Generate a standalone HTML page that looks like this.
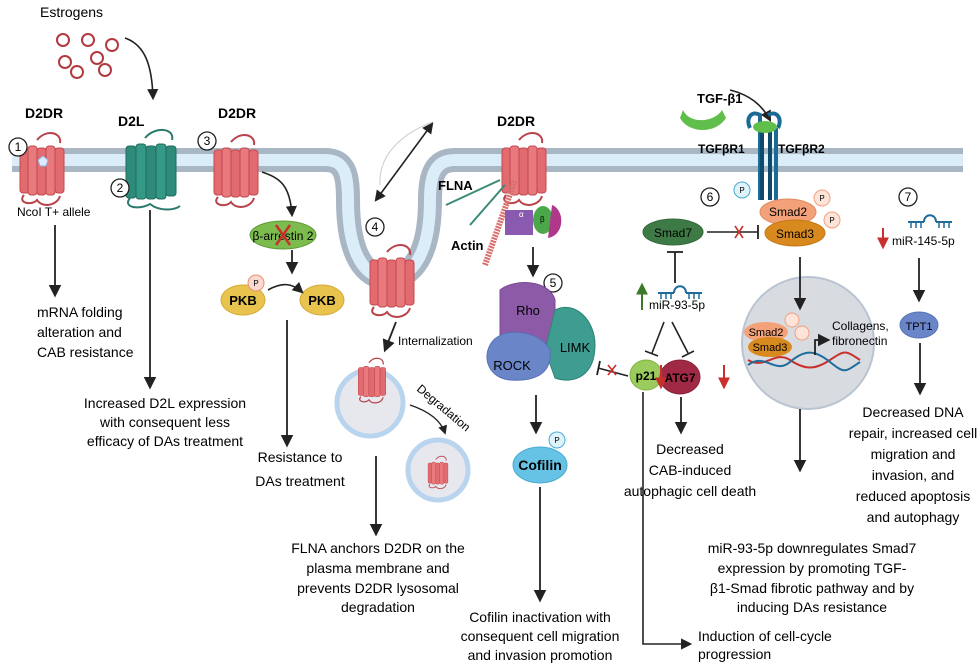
<!DOCTYPE html>
<html><head><meta charset="utf-8"><style>
html,body{margin:0;padding:0;background:#fff}
svg{display:block;font-family:"Liberation Sans",sans-serif}
</style></head><body>
<svg width="980" height="665" viewBox="0 0 980 665" xmlns="http://www.w3.org/2000/svg">
<defs>
<marker id="ah" viewBox="0 0 10 10" refX="8" refY="5" markerWidth="7" markerHeight="7" orient="auto-start-reverse"><path d="M0,0 L10,5 L0,10 z" fill="#222"/></marker>
<marker id="rah" viewBox="0 0 10 10" refX="8" refY="5" markerWidth="6" markerHeight="6" orient="auto"><path d="M0,0 L10,5 L0,10 z" fill="#c9302c"/></marker>
<marker id="gah" viewBox="0 0 10 10" refX="8" refY="5" markerWidth="6" markerHeight="6" orient="auto"><path d="M0,0 L10,5 L0,10 z" fill="#3b7a2a"/></marker>
<g id="rec">
<path d="M-5,-28 C5,-40 20,-35 18,-25" fill="none" stroke="#b8434a" stroke-width="2"/>
<rect x="-22" y="-20" width="9" height="45" rx="3" fill="#e26b6f" stroke="#c2484e"/>
<rect x="-14" y="-22" width="9" height="49" rx="3" fill="#e87a7d" stroke="#c2484e"/>
<rect x="-5" y="-20" width="9" height="47" rx="3" fill="#e26b6f" stroke="#c2484e"/>
<rect x="4" y="-22" width="9" height="49" rx="3" fill="#e87a7d" stroke="#c2484e"/>
<rect x="13" y="-20" width="9" height="45" rx="3" fill="#e26b6f" stroke="#c2484e"/>
<path d="M-18,27 C-25,35 -10,38 -5,32 C0,40 15,38 18,28" fill="none" stroke="#b8434a" stroke-width="2"/>
</g>
<g id="mir">
<path d="M-22,0 H-6 M6,0 H22 M-6,0 C-6,-9 6,-9 6,0" fill="none" stroke="#1f6c9c" stroke-width="2"/>
<path d="M-19,0 v6 M-14,0 v6 M-9,0 v6 M9,0 v6 M14,0 v6 M19,0 v6" stroke="#1f6c9c" stroke-width="1.5"/>
</g>
</defs>

<!-- membrane -->
<path d="M12,160 H325 C345,160 348,175 348,200 C348,255 365,278 388,278 C412,278 430,255 430,200 C430,175 435,160 455,160 H963" fill="none" stroke="#a9b7c4" stroke-width="24"/>
<path d="M12,160 H325 C345,160 348,175 348,200 C348,255 365,278 388,278 C412,278 430,255 430,200 C430,175 435,160 455,160 H963" fill="none" stroke="#dcedfa" stroke-width="12"/>
<rect x="370" y="130" width="40" height="45" fill="#fff"/>
<path d="M380,185 C378,150 410,130 433,122" fill="none" stroke="#ccc" stroke-width="1"/>
<path d="M376,200 L432,124" fill="none" stroke="#222" stroke-width="1.6" marker-end="url(#ah)" marker-start="url(#ah)"/>

<!-- estrogens -->
<text x="40" y="17" font-size="14">Estrogens</text>
<g fill="#fff" stroke="#b23a3f" stroke-width="2">
<circle cx="63" cy="40" r="6"/><circle cx="88" cy="40" r="6"/><circle cx="112" cy="45" r="6"/>
<circle cx="65" cy="62" r="6"/><circle cx="97" cy="58" r="6"/><circle cx="77" cy="72" r="6"/><circle cx="105" cy="70" r="6"/></g>
<path d="M125,38 C145,45 152,65 153,98" fill="none" stroke="#222" stroke-width="1.6" marker-end="url(#ah)"/>

<!-- receptors -->
<use href="#rec" x="42" y="168"/>
<path d="M38,160 l5,-4 l5,4 l-2,6 h-6 z" fill="#dfe9ff" stroke="#8fb0e0"/>
<use href="#rec" x="236" y="170"/>
<use href="#rec" x="392" y="280"/>
<use href="#rec" x="524" y="168"/>
<!-- D2L green -->
<g transform="translate(150,168)">
<path d="M-5,-30 C5,-42 25,-40 22,-28" fill="none" stroke="#2b7a6d" stroke-width="2"/>
<rect x="-24" y="-22" width="10" height="52" rx="3" fill="#2e8b7a" stroke="#1f6b5e"/>
<rect x="-14" y="-24" width="10" height="55" rx="3" fill="#349a87" stroke="#1f6b5e"/>
<rect x="-4" y="-22" width="10" height="53" rx="3" fill="#2e8b7a" stroke="#1f6b5e"/>
<rect x="6" y="-24" width="10" height="55" rx="3" fill="#349a87" stroke="#1f6b5e"/>
<rect x="16" y="-22" width="10" height="50" rx="3" fill="#2e8b7a" stroke="#1f6b5e"/>
<path d="M-20,30 C-28,40 -10,42 0,36 C10,44 25,42 30,38" fill="none" stroke="#2b7a6d" stroke-width="2"/>
</g>
<g font-size="14" font-weight="bold">
<text x="25" y="118">D2DR</text><text x="118" y="126">D2L</text><text x="218" y="118">D2DR</text><text x="497" y="126">D2DR</text>
</g>
<g font-size="12" fill="#fff" stroke="#222" stroke-width="1.3">
<circle cx="18" cy="147" r="9"/><circle cx="120" cy="188" r="9"/><circle cx="207" cy="141" r="9"/>
<circle cx="375" cy="227" r="9"/><circle cx="553" cy="283" r="9"/><circle cx="710" cy="197" r="9"/><circle cx="908" cy="197" r="9"/>
</g>
<g font-size="12" text-anchor="middle">
<text x="18" y="151">1</text><text x="120" y="192">2</text><text x="207" y="145">3</text><text x="375" y="231">4</text><text x="553" y="287">5</text><text x="710" y="201">6</text><text x="908" y="201">7</text>
</g>
<text x="17" y="216" font-size="12">NcoI T+ allele</text>

<!-- column 1 -->
<line x1="55" y1="225" x2="55" y2="295" stroke="#222" stroke-width="1.8" marker-end="url(#ah)"/>
<g font-size="14"><text x="37" y="317">mRNA folding</text><text x="37" y="337">alteration and</text><text x="37" y="357">CAB resistance</text></g>
<line x1="150" y1="210" x2="150" y2="387" stroke="#222" stroke-width="1.8" marker-end="url(#ah)"/>
<g font-size="14" text-anchor="middle"><text x="165" y="408">Increased D2L expression</text><text x="165" y="427">with consequent less</text><text x="165" y="446">efficacy of DAs treatment</text></g>

<!-- column 3 -->
<path d="M262,172 C280,178 290,185 292,215" fill="none" stroke="#222" stroke-width="1.6" marker-end="url(#ah)"/>
<ellipse cx="283" cy="235" rx="33" ry="14" fill="#7cbc4e" stroke="#5c9a35"/>
<text x="283" y="240" font-size="12" text-anchor="middle">β-arrestin 2</text>
<path d="M276,225 l14,20 M290,225 l-14,20" stroke="#c9302c" stroke-width="2.5"/>
<line x1="292" y1="250" x2="292" y2="272" stroke="#222" stroke-width="1.8" marker-end="url(#ah)"/>
<ellipse cx="243" cy="300" rx="22" ry="15" fill="#e8c44f" stroke="#d2ab35"/>
<ellipse cx="322" cy="300" rx="22" ry="15" fill="#e8c44f" stroke="#d2ab35"/>
<circle cx="256" cy="283" r="8" fill="#fbd9d0" stroke="#e8926f"/><text x="256" y="286" font-size="8" text-anchor="middle">P</text>
<text x="243" y="305" font-size="13" font-weight="bold" text-anchor="middle">PKB</text>
<text x="322" y="305" font-size="13" font-weight="bold" text-anchor="middle">PKB</text>
<path d="M268,290 C282,282 292,283 302,292" fill="none" stroke="#222" stroke-width="1.6" marker-end="url(#ah)"/>
<line x1="287" y1="320" x2="287" y2="445" stroke="#222" stroke-width="1.8" marker-end="url(#ah)"/>
<g font-size="14" text-anchor="middle"><text x="300" y="462">Resistance to</text><text x="300" y="486">DAs treatment</text></g>

<!-- column 4 -->
<line x1="396" y1="322" x2="385" y2="350" stroke="#222" stroke-width="1.8" marker-end="url(#ah)"/>
<text x="398" y="345" font-size="12">Internalization</text>
<circle cx="370" cy="403" r="33" fill="#e6e8ee" stroke="#b9d4ee" stroke-width="5"/>
<use href="#rec" transform="translate(372,380) scale(0.62)"/>
<path d="M410,405 C425,410 440,418 445,433" fill="none" stroke="#222" stroke-width="1.3" marker-end="url(#ah)"/>
<text font-size="12" transform="translate(416,390) rotate(40)">Degradation</text>
<circle cx="438" cy="470" r="30" fill="#e6e8ee" stroke="#b9d4ee" stroke-width="5"/>
<use href="#rec" transform="translate(438,472) scale(0.45)"/>
<line x1="376" y1="456" x2="376" y2="534" stroke="#222" stroke-width="1.8" marker-end="url(#ah)"/>
<g font-size="14" text-anchor="middle"><text x="378" y="553">FLNA anchors D2DR on the</text><text x="378" y="573">plasma membrane and</text><text x="378" y="593">prevents D2DR lysosomal</text><text x="378" y="612">degradation</text></g>

<!-- column 5 -->
<text x="438" y="190" font-size="13" font-weight="bold">FLNA</text>
<text x="451" y="250" font-size="13" font-weight="bold">Actin</text>
<path d="M446,205 L500,180 M470,225 L505,185" stroke="#3a8a7a" stroke-width="2"/>
<path d="M485,265 L515,180" stroke="#d97070" stroke-width="6" stroke-dasharray="2 1"/>
<path d="M505,210 h28 v25 h-28 z" fill="#8a5ab0"/>
<ellipse cx="543" cy="220" rx="10" ry="14" fill="#4aa84a"/>
<path d="M552,205 C565,210 565,235 548,238" fill="#b0388a"/>
<text x="519" y="217" font-size="8" fill="#fff">α</text><text x="540" y="222" font-size="8">β</text>
<line x1="533" y1="247" x2="533" y2="275" stroke="#222" stroke-width="1.8" marker-end="url(#ah)"/>
<path d="M500,290 C515,278 550,280 555,300 L555,345 C540,355 515,350 500,335 Z" fill="#8d5aa8" stroke="#7a4896"/>
<path d="M555,310 C575,300 595,320 595,345 C595,375 575,385 555,378 L545,350 Z" fill="#3e9c90" stroke="#2f8277"/>
<path d="M490,345 C500,325 540,330 550,350 C552,370 540,382 510,380 C490,378 482,360 490,345 Z" fill="#6b86c8" stroke="#5873b5"/>
<text x="528" y="315" font-size="13" text-anchor="middle">Rho</text>
<text x="575" y="352" font-size="13" text-anchor="middle">LIMK</text>
<text x="512" y="370" font-size="13" text-anchor="middle">ROCK</text>
<line x1="536" y1="395" x2="536" y2="432" stroke="#222" stroke-width="1.8" marker-end="url(#ah)"/>
<ellipse cx="540" cy="465" rx="27" ry="18" fill="#66c3e6" stroke="#4aaad0"/>
<circle cx="557" cy="440" r="8" fill="#dff3fa" stroke="#4aaad0"/><text x="557" y="443" font-size="8" text-anchor="middle">P</text>
<text x="540" y="470" font-size="14" font-weight="bold" text-anchor="middle">Cofilin</text>
<line x1="540" y1="487" x2="540" y2="600" stroke="#222" stroke-width="1.8" marker-end="url(#ah)"/>
<g font-size="14" text-anchor="middle"><text x="540" y="622">Cofilin inactivation with</text><text x="540" y="641">consequent cell migration</text><text x="540" y="660">and invasion promotion</text></g>

<!-- section 6 -->
<ellipse cx="673" cy="232" rx="30" ry="13" fill="#3e7a45" stroke="#336a3a"/>
<text x="673" y="237" font-size="12" text-anchor="middle">Smad7</text>
<line x1="707" y1="232" x2="758" y2="232" stroke="#222" stroke-width="1.6"/><line x1="758" y1="225" x2="758" y2="239" stroke="#222" stroke-width="1.8"/>
<path d="M735,226 l8,12 M743,226 l-8,12" stroke="#c9302c" stroke-width="1.6"/>
<line x1="675" y1="283" x2="675" y2="252" stroke="#222" stroke-width="1.8"/><line x1="667" y1="252" x2="683" y2="252" stroke="#222" stroke-width="1.8"/>
<use href="#mir" x="680" y="293"/>
<line x1="642" y1="310" x2="642" y2="285" stroke="#3b7a2a" stroke-width="2" marker-end="url(#gah)"/>
<text x="649" y="309" font-size="12">miR-93-5p</text>
<line x1="664" y1="322" x2="652" y2="353" stroke="#222" stroke-width="1.6"/><line x1="645" y1="351" x2="658" y2="356" stroke="#222" stroke-width="1.6"/>
<line x1="672" y1="322" x2="688" y2="353" stroke="#222" stroke-width="1.6"/><line x1="682" y1="357" x2="694" y2="351" stroke="#222" stroke-width="1.6"/>
<ellipse cx="646" cy="375" rx="16" ry="15" fill="#9acb5c" stroke="#82b447"/>
<text x="646" y="380" font-size="12" font-weight="bold" text-anchor="middle">p21</text>
<ellipse cx="680" cy="377" rx="20" ry="17" fill="#a02a45" stroke="#882239"/>
<text x="680" y="382" font-size="12" font-weight="bold" text-anchor="middle">ATG7</text>
<line x1="661" y1="365" x2="661" y2="387" stroke="#c9302c" stroke-width="2" marker-end="url(#rah)"/>
<line x1="724" y1="365" x2="724" y2="387" stroke="#c9302c" stroke-width="2" marker-end="url(#rah)"/>
<line x1="628" y1="376" x2="598" y2="368" stroke="#222" stroke-width="1.6"/><line x1="600" y1="361" x2="597" y2="375" stroke="#222" stroke-width="1.8"/>
<path d="M608,365 l8,10 M616,365 l-8,10" stroke="#c9302c" stroke-width="1.6"/>
<line x1="681" y1="397" x2="681" y2="432" stroke="#222" stroke-width="1.8" marker-end="url(#ah)"/>
<g font-size="14" text-anchor="middle"><text x="690" y="454">Decreased</text><text x="690" y="475">CAB-induced</text><text x="690" y="496">autophagic cell death</text></g>
<path d="M643,392 V644 H690" fill="none" stroke="#222" stroke-width="1.6" marker-end="url(#ah)"/>
<g font-size="14"><text x="698" y="641">Induction of cell-cycle</text><text x="698" y="659">progression</text></g>

<!-- TGF -->
<text x="697" y="103" font-size="13" font-weight="bold">TGF-β1</text>
<path d="M683,110 C690,125 715,122 722,110 L726,118 C715,135 688,133 680,118 Z" fill="#5fbf4a"/>
<path d="M730,90 C750,95 762,105 770,120" fill="none" stroke="#222" stroke-width="1.6" marker-end="url(#ah)"/>
<g stroke="#1a6c96" stroke-width="4" fill="none">
<path d="M750,128 C745,118 752,110 760,115 V200"/><path d="M778,128 C783,118 776,110 768,115"/>
<line x1="776" y1="128" x2="776" y2="200"/></g>
<g stroke="#0e4a6b" stroke-width="4"><line x1="762" y1="125" x2="762" y2="200"/><line x1="770" y1="125" x2="770" y2="200"/></g>
<ellipse cx="765" cy="127" rx="12" ry="6" fill="#5fbf4a"/>
<text x="698" y="153" font-size="12" font-weight="bold">TGFβR1</text>
<text x="778" y="153" font-size="12" font-weight="bold">TGFβR2</text>
<circle cx="742" cy="190" r="8" fill="#dff3fa" stroke="#4aaad0"/><text x="742" y="193" font-size="8" text-anchor="middle">P</text>
<ellipse cx="788" cy="212" rx="28" ry="13" fill="#f3a178" stroke="#e08a60"/>
<ellipse cx="795" cy="233" rx="30" ry="13" fill="#d98a1e" stroke="#c47815"/>
<text x="788" y="216" font-size="12" text-anchor="middle">Smad2</text><text x="795" y="238" font-size="12" text-anchor="middle">Smad3</text>
<circle cx="822" cy="198" r="8" fill="#fde3d8" stroke="#f0a080"/><text x="822" y="201" font-size="8" text-anchor="middle">P</text>
<circle cx="832" cy="220" r="8" fill="#fde3d8" stroke="#f0a080"/><text x="832" y="223" font-size="8" text-anchor="middle">P</text>
<circle cx="808" cy="343" r="66" fill="#d8dbe0" stroke="#b9c4d2" stroke-width="2"/>
<line x1="800" y1="257" x2="800" y2="308" stroke="#222" stroke-width="1.8" marker-end="url(#ah)"/>
<ellipse cx="766" cy="332" rx="22" ry="10" fill="#f3a178"/><ellipse cx="770" cy="347" rx="22" ry="10" fill="#d98a1e"/>
<text x="766" y="336" font-size="11" text-anchor="middle">Smad2</text><text x="770" y="351" font-size="11" text-anchor="middle">Smad3</text>
<circle cx="792" cy="320" r="7" fill="#fde3d8" stroke="#f0a080"/><circle cx="802" cy="333" r="7" fill="#fde3d8" stroke="#f0a080"/>
<path d="M748,360 C765,370 775,350 790,360 S815,370 830,360 S845,350 860,360" fill="none" stroke="#c9302c" stroke-width="2"/>
<path d="M748,365 C765,352 775,375 790,362 S815,350 830,362 S845,372 860,362" fill="none" stroke="#1f6c9c" stroke-width="2"/>
<path d="M815,355 V340 H828" fill="none" stroke="#222" stroke-width="1.8" marker-end="url(#ah)"/>
<g font-size="12"><text x="832" y="330">Collagens,</text><text x="832" y="345">fibronectin</text></g>
<line x1="800" y1="409" x2="800" y2="470" stroke="#222" stroke-width="1.8" marker-end="url(#ah)"/>
<g font-size="14" text-anchor="middle"><text x="812" y="553">miR-93-5p downregulates Smad7</text><text x="812" y="573">expression by promoting TGF-</text><text x="812" y="593">β1-Smad fibrotic pathway and by</text><text x="812" y="612">inducing DAs resistance</text></g>

<!-- 7 -->
<use href="#mir" x="930" y="222"/>
<line x1="883" y1="228" x2="883" y2="247" stroke="#c9302c" stroke-width="2" marker-end="url(#rah)"/>
<text x="892" y="245" font-size="12">miR-145-5p</text>
<line x1="919" y1="258" x2="919" y2="300" stroke="#222" stroke-width="1.8" marker-end="url(#ah)"/>
<ellipse cx="919" cy="325" rx="19" ry="13" fill="#6b86c8" stroke="#5873b5"/>
<text x="919" y="330" font-size="11" text-anchor="middle">TPT1</text>
<line x1="920" y1="343" x2="920" y2="393" stroke="#222" stroke-width="1.8" marker-end="url(#ah)"/>
<g font-size="14" text-anchor="middle"><text x="913" y="417">Decreased DNA</text><text x="913" y="438">repair, increased cell</text><text x="913" y="459">migration and</text><text x="913" y="480">invasion, and</text><text x="913" y="501">reduced apoptosis</text><text x="913" y="522">and autophagy</text></g>
</svg>
</body></html>
